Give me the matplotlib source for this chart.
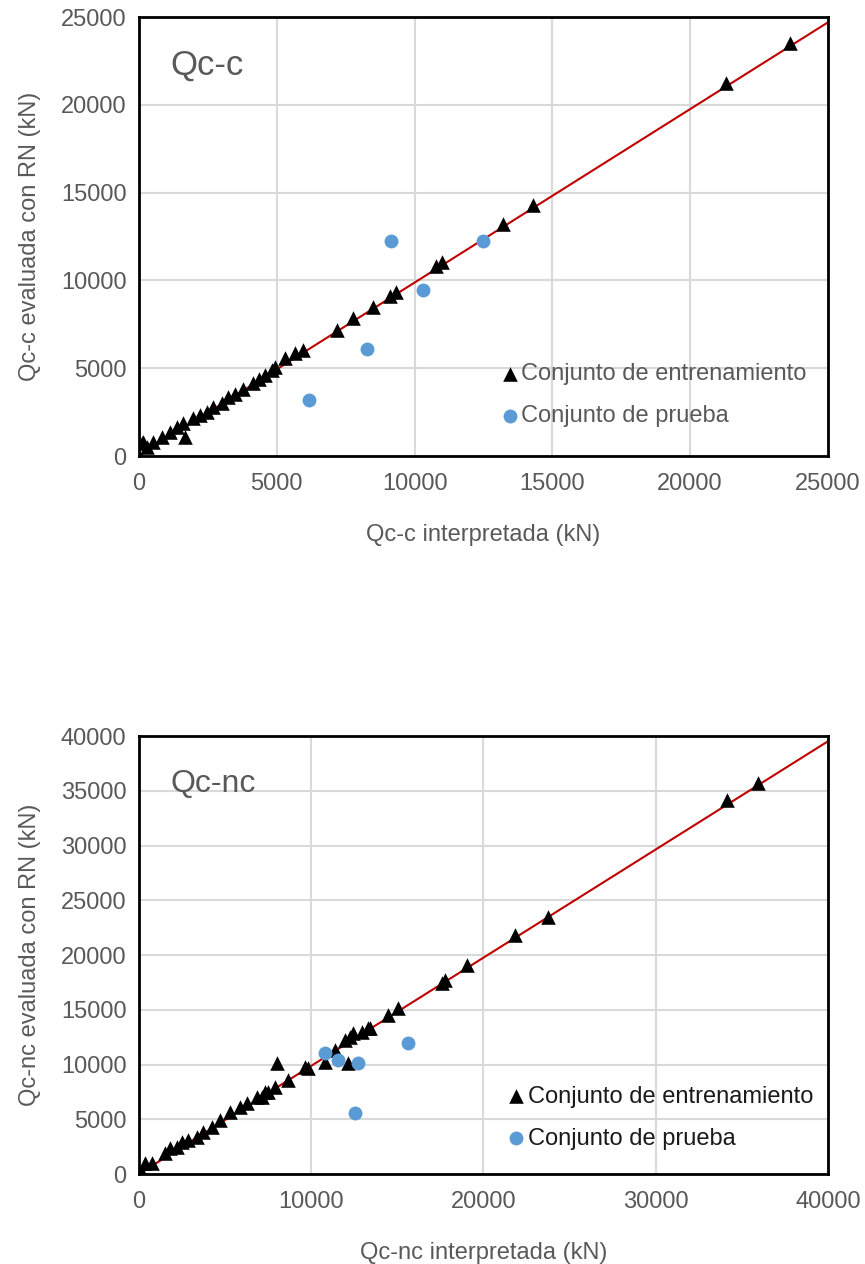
import numpy as np
import matplotlib
matplotlib.use("Agg")
import matplotlib.pyplot as plt

plt.rcParams['font.family'] = ['Liberation Sans', 'DejaVu Sans']

# ---------------------------------------------------------------
# data
# ---------------------------------------------------------------
# Qc-c : training set
train_c_x = [0, 100, 157, 280, 520, 822, 1125, 1367, 1610, 1669, 1973, 2213,
             2456, 2697, 3000, 3241, 3500, 3785, 4148, 4350, 4572, 4814, 4935,
             5298, 5660, 5962, 7184, 7776, 8502, 9107, 9325, 10776, 10983,
             13218, 14307, 21292, 23621]
train_c_y = [0, 750, 814, 530, 814, 1099, 1384, 1670, 1860, 1099, 2145, 2335,
             2525, 2810, 3000, 3377, 3550, 3800, 4140, 4400, 4613, 4897, 5085,
             5563, 5848, 6036, 7175, 7876, 8502, 9112, 9322, 10820, 11031,
             13195, 14294, 21258, 23519]
# Qc-c : test set
test_c_x = [6168, 8273, 9144, 10305, 12482]
test_c_y = [3189, 6093, 12244, 9453, 12244]

# Qc-nc : training set
train_nc_x = [0, 150, 348, 735, 1509, 1800, 2186, 2476, 2863, 3349, 3736, 4219,
              4703, 5283, 5864, 6252, 6831, 7121, 7315, 7508, 7896, 7994, 8668,
              9637, 9830, 10798, 11379, 11960, 12152, 12250, 12442, 12927,
              13313, 13411, 14475, 15054, 17573, 17765, 19024, 21828, 23762,
              34119, 35955]
train_nc_y = [0, 100, 977, 977, 1887, 2344, 2496, 2953, 3105, 3410, 3866, 4323,
              4931, 5693, 6150, 6454, 7063, 7063, 7519, 7519, 7976, 10107, 8584,
              9802, 9650, 10259, 11324, 12237, 10107, 12542, 12847, 12999,
              13306, 13306, 14520, 15129, 17413, 17717, 19087, 21826, 23498,
              34155, 35680]
# Qc-nc : test set
test_nc_x = [10798, 11572, 12733, 12540, 15636]
test_nc_y = [11020, 10411, 10107, 5541, 11933]

# trend line (slope)
trend_slope = 0.988

panels = [
    {'tx': train_c_x, 'ty': train_c_y, 'px': test_c_x, 'py': test_c_y,
     'lim': 25000, 'xstep': 5000, 'ystep': 5000, 'tag': 'Qc-c', 'tagsize': 25,
     'xlabel': 'Qc-c interpretada (kN)', 'ylabel': 'Qc-c evaluada con RN (kN)',
     'legcolor': '#595959', 'legpos': (1.0, 0.018),
     'rect': [0.1607, 0.6392, 0.7965, 0.3473]},
    {'tx': train_nc_x, 'ty': train_nc_y, 'px': test_nc_x, 'py': test_nc_y,
     'lim': 40000, 'xstep': 10000, 'ystep': 5000, 'tag': 'Qc-nc', 'tagsize': 23,
     'xlabel': 'Qc-nc interpretada (kN)', 'ylabel': 'Qc-nc evaluada con RN (kN)',
     'legcolor': '#1a1a1a', 'legpos': (1.009, 0.007),
     'rect': [0.1607, 0.0712, 0.7965, 0.3465]},
]

GREY = '#595959'
fig = plt.figure(figsize=(8.65, 12.64), dpi=100)

for p in panels:
    ax = fig.add_axes(p['rect'])
    lim = p['lim']
    xs = np.array([0, lim])
    ax.plot(xs, trend_slope * xs, color='#C00000', lw=1.5, zorder=2)
    ax.scatter(p['tx'], p['ty'], marker='^', s=110, color='black',
               label='Conjunto de entrenamiento', zorder=3, linewidths=0)
    ax.scatter(p['px'], p['py'], marker='o', s=100, color='#5B9BD5',
               label='Conjunto de prueba', zorder=4, linewidths=0)

    ax.set_xlim(0, lim)
    ax.set_ylim(0, lim)
    ax.set_xticks(np.arange(0, lim + 1, p['xstep']))
    ax.set_yticks(np.arange(0, lim + 1, p['ystep']))
    ax.grid(True, color='#d9d9d9', lw=1.5, zorder=0)
    ax.set_axisbelow(True)
    for s in ax.spines.values():
        s.set_color('black')
        s.set_linewidth(2)
    ax.tick_params(axis='both', length=0, labelsize=17, labelcolor=GREY)
    ax.tick_params(axis='y', pad=9)
    ax.tick_params(axis='x', pad=12)
    ax.set_xlabel(p['xlabel'], fontsize=17, color=GREY, labelpad=21)
    ax.set_ylabel(p['ylabel'], fontsize=17, color=GREY, labelpad=14)
    ax.text(0.045, 0.89, p['tag'], transform=ax.transAxes, fontsize=p['tagsize'],
            color=GREY, va='center', ha='left')
    ax.legend(loc='lower right', bbox_to_anchor=p['legpos'], frameon=False,
              fontsize=17, handlelength=1.0, handletextpad=0.0,
              labelspacing=0.85, labelcolor=p['legcolor'])

fig.savefig('out.png', dpi=100)
